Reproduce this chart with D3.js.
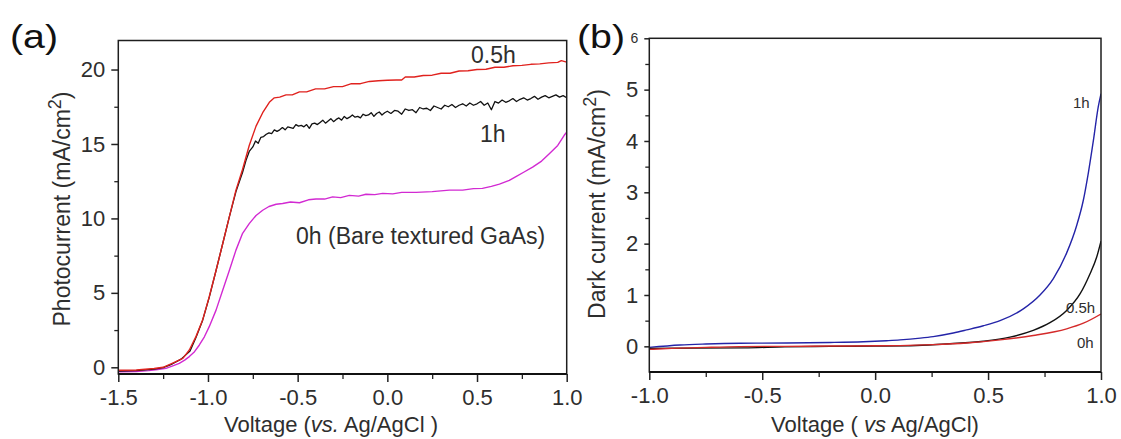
<!DOCTYPE html>
<html><head><meta charset="utf-8">
<script src="https://cdn.jsdelivr.net/npm/d3@7"></script>
<style>
html,body{margin:0;padding:0;background:#fff;}
svg{display:block;font-family:"Liberation Sans",Arial,sans-serif;}
</style></head>
<body>
<svg id="chart" width="1121" height="439"></svg>
<script>
// ---------- Panel (a): photocurrent ----------
const xTicksA = [-1.5, -1.0, -0.5, 0.0, 0.5, 1.0];
const xTickLabelsA = ["-1.5", "-1.0", "-0.5", "0.0", "0.5", "1.0"];
const yTicksA = [0, 5, 10, 15, 20];
const yTickLabelsA = ["0", "5", "10", "15", "20"];

const vRed05 = [-1.5,-1.4,-1.3,-1.25,-1.2,-1.14,-1.104,-1.067,-1.03,-0.993,-0.955,-0.918,-0.881,-0.844,-0.807,-0.77,-0.732,-0.695,-0.658,-0.63,-0.6,-0.565,-0.53,-0.49,-0.45,-0.4,-0.35,-0.3,-0.25,-0.2,-0.15,-0.1,-0.05,0.0,0.05,0.08,0.1,0.15,0.2,0.25,0.3,0.35,0.4,0.45,0.5,0.55,0.6,0.65,0.7,0.75,0.8,0.85,0.9,0.95,0.97,1.0];
const jRed05 = [-0.2,-0.18,-0.08,0.0,0.27,0.6,1.16,2.06,3.17,4.74,6.5,8.3,10.1,11.9,13.3,14.9,16.2,17.1,17.8,18.1,18.15,18.3,18.3,18.5,18.5,18.7,18.7,18.85,18.85,19.05,19.05,19.2,19.25,19.28,19.3,19.3,19.5,19.5,19.6,19.62,19.75,19.75,19.9,19.92,20.0,20.02,20.15,20.15,20.25,20.28,20.35,20.38,20.45,20.48,20.6,20.5];

const vBlack1 = [-1.5,-1.4,-1.3,-1.25,-1.2,-1.15,-1.1,-1.067,-1.03,-0.993,-0.955,-0.918,-0.881,-0.844,-0.807,-0.788,-0.77,-0.75,-0.735,-0.72,-0.705,-0.69,-0.675,-0.66,-0.645,-0.63,-0.615,-0.6,-0.585,-0.57,-0.555,-0.54,-0.525,-0.51,-0.495,-0.48,-0.465,-0.45,-0.435,-0.42,-0.405,-0.39,-0.375,-0.36,-0.345,-0.33,-0.315,-0.3,-0.285,-0.27,-0.255,-0.24,-0.225,-0.21,-0.195,-0.18,-0.165,-0.15,-0.135,-0.12,-0.105,-0.09,-0.075,-0.06,-0.045,-0.03,-0.015,0.0,0.02,0.04,0.06,0.08,0.1,0.12,0.14,0.16,0.18,0.2,0.22,0.24,0.26,0.28,0.3,0.32,0.34,0.36,0.38,0.4,0.42,0.44,0.46,0.48,0.5,0.52,0.54,0.56,0.58,0.6,0.62,0.64,0.66,0.68,0.7,0.72,0.74,0.76,0.78,0.8,0.82,0.84,0.86,0.88,0.9,0.92,0.94,0.96,0.98,1.0];
const jBlack1 = [-0.25,-0.22,-0.12,-0.02,0.22,0.55,1.1,2.0,3.15,4.7,6.5,8.3,10.1,11.8,13.1,13.9,14.5,14.8,
  15.2,15.05,15.45,15.5,15.65,15.75,15.7,15.95,15.85,15.95,16.1,15.95,16.15,16.1,16.05,16.3,16.2,16.25,16.15,16.3,16.05,16.35,16.4,16.3,16.45,16.6,16.4,16.55,16.7,16.5,16.65,16.75,16.6,16.85,16.7,16.8,16.95,16.8,16.85,16.75,17.0,16.9,16.95,17.1,16.85,17.05,17.15,16.95,17.1,17.2,
  17.05,17.25,17.2,17.0,17.35,17.25,17.3,17.1,17.45,17.35,17.4,17.25,17.55,17.45,17.35,17.6,17.5,17.65,17.45,17.6,17.7,17.55,17.75,17.6,17.7,17.85,17.6,17.75,17.3,17.85,17.75,17.95,17.8,17.9,18.05,17.85,18.0,18.1,17.95,18.05,18.2,18.0,18.15,18.25,18.1,18.2,18.3,18.15,18.25,18.1];

const vMag0 = [-1.5,-1.4,-1.33,-1.28,-1.234,-1.2,-1.16,-1.13,-1.104,-1.075,-1.048,-1.02,-0.993,-0.955,-0.918,-0.881,-0.844,-0.807,-0.77,-0.732,-0.695,-0.66,-0.62,-0.584,-0.54,-0.49,-0.44,-0.398,-0.35,-0.305,-0.26,-0.212,-0.16,-0.119,-0.07,-0.026,0.03,0.08,0.16,0.25,0.346,0.42,0.48,0.53,0.58,0.625,0.68,0.717,0.76,0.81,0.86,0.903,0.95,0.987,1.0];
const jMag0 = [-0.3,-0.28,-0.22,-0.15,-0.07,0.08,0.27,0.48,0.72,1.05,1.5,2.05,2.73,3.84,5.18,6.5,7.87,9.0,9.65,10.2,10.55,10.8,10.95,11.0,11.1,11.05,11.25,11.3,11.3,11.45,11.4,11.55,11.5,11.62,11.6,11.68,11.65,11.75,11.75,11.8,11.9,11.9,12.0,12.02,12.15,12.3,12.55,12.8,13.1,13.45,13.85,14.35,14.9,15.6,15.8];

// ---------- Panel (b): dark current ----------
const xTicksB = [-1.0, -0.5, 0.0, 0.5, 1.0];
const xTickLabelsB = ["-1.0", "-0.5", "0.0", "0.5", "1.0"];
const yTicksB = [0, 1, 2, 3, 4, 5, 6];
const yTickLabelsB = ["0", "1", "2", "3", "4", "5", "6"];

const vBlue1 = [-1.0,-0.864,-0.75,-0.598,-0.392,-0.2,-0.052,0.05,0.11,0.2,0.257,0.346,0.405,0.479,0.553,0.656,0.73,0.789,0.848,0.892,0.922,0.944,0.966,0.988,1.0];
const jBlue1 = [-0.02,0.026,0.045,0.06,0.065,0.075,0.09,0.11,0.125,0.16,0.19,0.26,0.32,0.40,0.50,0.73,1.0,1.32,1.82,2.35,2.85,3.38,4.0,4.67,4.92];

const vBlack05 = [-1.0,-0.8,-0.58,-0.4,-0.2,0.0,0.184,0.331,0.479,0.597,0.70,0.774,0.848,0.907,0.951,0.981,1.0];
const jBlack05 = [-0.04,-0.035,-0.03,-0.01,0.0,0.005,0.015,0.05,0.10,0.18,0.31,0.46,0.70,1.02,1.41,1.74,2.05];

const vRed0 = [-1.0,-0.9,-0.75,-0.6,-0.4,-0.2,0.0,0.11,0.257,0.405,0.553,0.70,0.848,0.922,1.0];
const jRed0 = [-0.06,-0.04,-0.02,-0.005,0.0,0.005,0.01,0.014,0.033,0.066,0.125,0.21,0.34,0.45,0.63];

// ---------- drawing ----------
const svg = d3.select("#chart");
const TXT = "#2e2e2e";
const zip = (xs, ys) => xs.map((x, i) => [x, ys[i]]);

function panel(cfg) {
  const x = d3.scaleLinear().domain(cfg.xDom).range([cfg.left, cfg.right]);
  const y = d3.scaleLinear().domain(cfg.yDom).range([cfg.bottom, cfg.top]);
  const g = svg.append("g");

  // minor ticks
  g.append("g").attr("transform", `translate(0,${cfg.bottom})`)
    .call(d3.axisBottom(x).tickValues(cfg.xMinor).tickSize(5).tickFormat(""))
    .call(s => s.select(".domain").remove())
    .call(s => s.selectAll("line").attr("stroke", "#222").attr("stroke-width", 1.3));
  g.append("g").attr("transform", `translate(${cfg.left},0)`)
    .call(d3.axisLeft(y).tickValues(cfg.yMinor).tickSize(4).tickFormat(""))
    .call(s => s.select(".domain").remove())
    .call(s => s.selectAll("line").attr("stroke", "#222").attr("stroke-width", 1.3));

  // major x
  const ax = g.append("g").attr("transform", `translate(0,${cfg.bottom})`)
    .call(d3.axisBottom(x).tickValues(cfg.xTicks).tickSize(8).tickPadding(7)
      .tickFormat((d, i) => cfg.xLabels[i]));
  ax.select(".domain").remove();
  ax.selectAll("line").attr("stroke", "#222").attr("stroke-width", 1.5);
  ax.selectAll("text").attr("font-size", 22).attr("fill", TXT)
    .attr("font-family", "Liberation Sans, Arial, sans-serif");

  // major y
  const ay = g.append("g").attr("transform", `translate(${cfg.left},0)`)
    .call(d3.axisLeft(y).tickValues(cfg.yTicks).tickSize(cfg.yTickSize).tickPadding(cfg.yPad)
      .tickFormat((d, i) => cfg.yLabels[i]));
  ay.select(".domain").remove();
  ay.selectAll("line").attr("stroke", "#222").attr("stroke-width", 1.5);
  ay.selectAll("text").attr("font-size", 22).attr("fill", TXT)
    .attr("font-family", "Liberation Sans, Arial, sans-serif");
  if (cfg.smallTop) {
    ay.selectAll("text").filter(d => d === cfg.smallTop).attr("font-size", 14);
  }

  // lines
  const clipId = "clip" + cfg.id;
  svg.append("clipPath").attr("id", clipId).append("rect")
    .attr("x", cfg.left).attr("y", cfg.top)
    .attr("width", cfg.right - cfg.left).attr("height", cfg.bottom - cfg.top);
  const line = d3.line().x(d => x(d[0])).y(d => y(d[1]));
  if (cfg.smooth) line.curve(d3.curveMonotoneX);
  cfg.series.forEach(s => {
    g.append("path").datum(zip(s.v, s.j))
      .attr("clip-path", `url(#${clipId})`)
      .attr("fill", "none").attr("stroke", s.color)
      .attr("stroke-width", s.w || 1.4).attr("stroke-linejoin", "round")
      .attr("d", line);
  });

  // frame
  g.append("rect").attr("x", cfg.left).attr("y", cfg.top)
    .attr("width", cfg.right - cfg.left).attr("height", cfg.bottom - cfg.top)
    .attr("fill", "none").attr("stroke", "#1e1e1e").attr("stroke-width", 1.5);
  g.append("line").attr("x1", cfg.left).attr("x2", cfg.right)
    .attr("y1", cfg.bottom).attr("y2", cfg.bottom)
    .attr("stroke", "#111").attr("stroke-width", 2.2);

  // panel letter
  g.append("text").attr("x", cfg.letterX).attr("y", 48)
    .attr("font-size", 33).attr("fill", "#111")
    .attr("textLength", 48).attr("lengthAdjust", "spacingAndGlyphs")
    .text(cfg.letter);

  // y label
  const yl = g.append("text")
    .attr("transform", `translate(${cfg.yLabelX},${cfg.yLabelY}) rotate(-90)`)
    .attr("text-anchor", "middle").attr("font-size", 23).attr("fill", TXT)
    .attr("dy", "0.35em");
  yl.append("tspan").text(cfg.yTitle + " (mA/cm");
  yl.append("tspan").attr("font-size", 18).attr("dy", -9).text("2");
  yl.append("tspan").attr("dy", 9).text(")");

  // x label
  const xl = g.append("text").attr("x", cfg.xLabelX).attr("y", 432)
    .attr("text-anchor", "middle").attr("font-size", 22).attr("fill", TXT);
  cfg.xTitle.forEach(p => {
    const t = xl.append("tspan").text(p.t);
    if (p.i) t.attr("font-style", "italic");
  });

  // annotations
  cfg.notes.forEach(n => {
    g.append("text").attr("x", n.x).attr("y", n.y)
      .attr("font-size", n.size).attr("fill", TXT).text(n.t);
  });
}

panel({
  id: "a", letter: "(a)", letterX: 10,
  xDom: [-1.5, 1.0], yDom: [-0.45, 21.95],
  left: 118.3, right: 566.7, top: 40.5, bottom: 374,
  xTicks: xTicksA, xLabels: xTickLabelsA,
  xMinor: [-1.25, -0.75, -0.25, 0.25, 0.75],
  yTicks: yTicksA, yLabels: yTickLabelsA,
  yMinor: [2.5, 7.5, 12.5, 17.5],
  yTickSize: 7, yPad: 6,
  yTitle: "Photocurrent", yLabelX: 62, yLabelY: 209,
  xLabelX: 331,
  xTitle: [{t: "Voltage ("}, {t: "vs.", i: true}, {t: " Ag/AgCl )"}],
  series: [
    {v: vMag0, j: jMag0, color: "#d22ad2"},
    {v: vBlack1, j: jBlack1, color: "#111111", w: 1.3},
    {v: vRed05, j: jRed05, color: "#e0221e"}
  ],
  notes: [
    {t: "0.5h", x: 471, y: 63, size: 23},
    {t: "1h", x: 480, y: 142, size: 23},
    {t: "0h (Bare textured GaAs)", x: 296, y: 244, size: 23}
  ]
});

panel({
  id: "b", letter: "(b)", letterX: 577, smooth: true,
  xDom: [-1.0, 1.0], yDom: [-0.5, 6.0],
  left: 649.3, right: 1101, top: 38.3, bottom: 372,
  xTicks: xTicksB, xLabels: xTickLabelsB,
  xMinor: [-0.75, -0.25, 0.25, 0.75],
  yTicks: yTicksB, yLabels: yTickLabelsB,
  yMinor: [0.5, 1.5, 2.5, 3.5, 4.5, 5.5],
  yTickSize: 5, yPad: 6, smallTop: 6,
  yTitle: "Dark current", yLabelX: 597, yLabelY: 204,
  xLabelX: 875,
  xTitle: [{t: "Voltage ( "}, {t: "vs", i: true}, {t: " Ag/AgCl)"}],
  series: [
    {v: vBlue1, j: jBlue1, color: "#2424a8"},
    {v: vBlack05, j: jBlack05, color: "#111111"},
    {v: vRed0, j: jRed0, color: "#d42a2a"}
  ],
  notes: [
    {t: "1h", x: 1073, y: 108, size: 15},
    {t: "0.5h", x: 1066, y: 313, size: 15},
    {t: "0h", x: 1077, y: 348, size: 15}
  ]
});
</script>
</body></html>
